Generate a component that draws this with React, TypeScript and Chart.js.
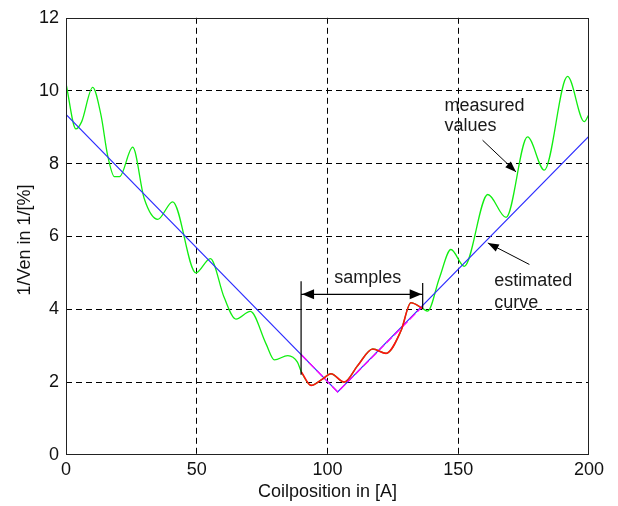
import React, { useEffect, useRef } from 'react';
import { Chart, registerables } from 'chart.js';

Chart.register(...registerables);

// Measured values (green)
const measuredX = [0, 3.8, 6, 10.2, 13.4, 15.9, 18.5, 20.5, 25.5, 29.9, 35.1, 40.8, 49.7, 55.2, 60.5, 65, 70.5, 76.5, 79.7, 84.8, 88.5, 90, 93.7, 98.2, 101.3, 106.4, 111.5, 117.3, 122.4, 128.1, 131.9, 136.4, 138.3, 142.8, 147.2, 152.3, 161.3, 168.3, 176.5, 182.9, 191.8, 198.2, 200];
const measuredY = [10.2, 8.95, 9.15, 10.09, 9.32, 8.23, 7.64, 7.64, 8.45, 7.04, 6.47, 6.95, 5.0, 5.39, 4.32, 3.73, 3.94, 3.05, 2.61, 2.73, 2.55, 2.28, 1.91, 2.09, 2.23, 2.0, 2.45, 2.91, 2.79, 3.41, 4.18, 4.02, 3.95, 4.86, 5.64, 5.18, 7.15, 6.52, 8.73, 7.82, 10.39, 9.15, 9.35];

// Samples (red)
const sampleX = [90, 93.7, 98.2, 101.3, 106.4, 111.5, 117.3, 122.4, 128.1, 131.9, 136.4];
const sampleY = [2.28, 1.91, 2.09, 2.23, 2.0, 2.45, 2.91, 2.79, 3.41, 4.18, 4.02];

// Estimated curve (blue)
const estimatedX = [0, 103.9, 200];
const estimatedY = [9.35, 1.73, 8.75];

// Fit over samples (magenta)
const fitX = [90, 103.9, 136.4];
const fitY = [2.75, 1.73, 4.08];

// Axis ticks
const xTicks = [0, 50, 100, 150, 200];
const yTicks = [0, 2, 4, 6, 8, 10, 12];

// Annotation anchors (data coordinates)
const samplesLeftX = 89.9;
const samplesRightX = 136.4;
const samplesArrowY = 4.41;
const samplesLeftSpan = [4.77, 2.2];
const samplesRightSpan = [4.72, 4.0];
const samplesLabel = { text: 'samples', x: 115.4, y: 4.86 };
const measuredLabel = { lines: ['measured', 'values'], x: 144.7, y: [9.59, 9.04] };
const measuredArrow = [159.3, 8.64, 172.1, 7.77];
const estimatedLabel = { lines: ['estimated', 'curve'], x: 163.8, y: [4.77, 4.18] };
const estimatedArrow = [177.2, 5.23, 161.3, 5.82];
const yTitle = { text: '1/Ven in 1/[%]', y: 5.9 };

const FONT = '"Liberation Sans", Arial, Helvetica, sans-serif';

const toPts = (xs: number[], ys: number[]) => xs.map((x, i) => ({ x, y: ys[i] }));

function drawArrowHead(ctx: CanvasRenderingContext2D, x1: number, y1: number, x2: number, y2: number, len: number, half: number) {
  const ang = Math.atan2(y2 - y1, x2 - x1);
  ctx.beginPath();
  ctx.moveTo(x2, y2);
  ctx.lineTo(x2 - len * Math.cos(ang) + half * Math.sin(ang), y2 - len * Math.sin(ang) - half * Math.cos(ang));
  ctx.lineTo(x2 - len * Math.cos(ang) - half * Math.sin(ang), y2 - len * Math.sin(ang) + half * Math.cos(ang));
  ctx.closePath();
  ctx.fill();
}

const annotationPlugin = {
  id: 'annotations',
  afterDatasetsDraw(chart: any) {
    const { ctx, chartArea, scales } = chart;
    const xs = scales.x;
    const ys = scales.y;
    ctx.save();
    // frame
    ctx.strokeStyle = '#222';
    ctx.lineWidth = 1;
    ctx.setLineDash([]);
    const l = Math.round(chartArea.left) + 0.5;
    const r = Math.round(chartArea.right) - 0.5;
    const t = Math.round(chartArea.top) + 0.5;
    const b = Math.round(chartArea.bottom) - 0.5;
    ctx.strokeRect(l, t, r - l, b - t);

    ctx.strokeStyle = '#000';
    ctx.fillStyle = '#000';
    ctx.lineWidth = 1.2;
    // sample verticals
    const lx = xs.getPixelForValue(samplesLeftX);
    const rx = xs.getPixelForValue(samplesRightX);
    ctx.beginPath();
    ctx.moveTo(lx, ys.getPixelForValue(samplesLeftSpan[0]));
    ctx.lineTo(lx, ys.getPixelForValue(samplesLeftSpan[1]));
    ctx.moveTo(rx, ys.getPixelForValue(samplesRightSpan[0]));
    ctx.lineTo(rx, ys.getPixelForValue(samplesRightSpan[1]));
    const ay = ys.getPixelForValue(samplesArrowY);
    ctx.moveTo(lx, ay);
    ctx.lineTo(rx, ay);
    ctx.stroke();
    drawArrowHead(ctx, rx, ay, lx + 1, ay, 12, 5);
    drawArrowHead(ctx, lx, ay, rx - 1, ay, 12, 5);

    // other arrows
    const arrows = [measuredArrow, estimatedArrow];
    ctx.lineWidth = 1;
    arrows.forEach((a) => {
      const x1 = xs.getPixelForValue(a[0]);
      const y1 = ys.getPixelForValue(a[1]);
      const x2 = xs.getPixelForValue(a[2]);
      const y2 = ys.getPixelForValue(a[3]);
      ctx.beginPath();
      ctx.moveTo(x1, y1);
      ctx.lineTo(x2, y2);
      ctx.stroke();
      drawArrowHead(ctx, x1, y1, x2, y2, 11, 4);
    });

    // texts
    ctx.font = `18px ${FONT}`;
    ctx.fillStyle = '#1a1a1a';
    ctx.textBaseline = 'middle';
    ctx.textAlign = 'center';
    ctx.fillText(samplesLabel.text, xs.getPixelForValue(samplesLabel.x), ys.getPixelForValue(samplesLabel.y));
    ctx.textAlign = 'left';
    measuredLabel.lines.forEach((s, i) => {
      ctx.fillText(s, xs.getPixelForValue(measuredLabel.x), ys.getPixelForValue(measuredLabel.y[i]));
    });
    estimatedLabel.lines.forEach((s, i) => {
      ctx.fillText(s, xs.getPixelForValue(estimatedLabel.x), ys.getPixelForValue(estimatedLabel.y[i]));
    });

    // y axis title
    ctx.save();
    ctx.translate(25, ys.getPixelForValue(yTitle.y));
    ctx.rotate(-Math.PI / 2);
    ctx.textAlign = 'center';
    ctx.fillStyle = '#111';
    ctx.fillText(yTitle.text, 0, 0);
    ctx.restore();

    ctx.restore();
  },
};

export default function App() {
  const canvasRef = useRef<HTMLCanvasElement | null>(null);

  useEffect(() => {
    if (!canvasRef.current) return;
    const chart = new Chart(canvasRef.current, {
      type: 'line',
      data: {
        datasets: [
          {
            label: 'samples',
            data: toPts(sampleX, sampleY),
            borderColor: '#ff1010',
            borderWidth: 1.6,
            pointRadius: 0,
            tension: 0.4,
            cubicInterpolationMode: 'monotone',
            fill: false,
          },
          {
            label: 'fit',
            data: toPts(fitX, fitY),
            borderColor: '#ff00ff',
            borderWidth: 1.3,
            borderDash: [8, 3],
            pointRadius: 0,
            tension: 0,
            fill: false,
          },
          {
            label: 'estimated curve',
            data: toPts(estimatedX, estimatedY),
            borderColor: '#3030ff',
            borderWidth: 1.2,
            pointRadius: 0,
            tension: 0,
            fill: false,
          },
          {
            label: 'measured values',
            data: toPts(measuredX, measuredY),
            borderColor: '#11ee11',
            borderWidth: 1.3,
            pointRadius: 0,
            tension: 0.4,
            cubicInterpolationMode: 'monotone',
            fill: false,
          },
        ],
      },
      options: {
        responsive: false,
        animation: false,
        events: [],
        layout: { padding: { left: 0, top: 15, right: 29, bottom: 0 } },
        plugins: { legend: { display: false }, tooltip: { enabled: false } },
        scales: {
          x: {
            type: 'linear',
            min: 0,
            max: 200,
            afterFit: (s: any) => { s.height = 51; },
            afterBuildTicks: (s: any) => { s.ticks = xTicks.map((v) => ({ value: v })); },
            ticks: { color: '#111', font: { size: 18, family: FONT }, padding: 4, maxRotation: 0 },
            grid: {
              drawTicks: false,
              color: (c: any) => (c.tick && (c.tick.value === 0 || c.tick.value === 200) ? 'rgba(0,0,0,0)' : '#000'),
              lineWidth: 1,
            },
            border: { display: false, dash: [6, 4] },
            title: { display: true, text: 'Coilposition in [A]', color: '#111', font: { size: 18, family: FONT }, padding: { top: 0, bottom: 3 } },
          },
          y: {
            type: 'linear',
            min: 0,
            max: 12,
            afterFit: (s: any) => { s.width = 66; },
            afterBuildTicks: (s: any) => { s.ticks = yTicks.map((v) => ({ value: v })); },
            ticks: { color: '#111', font: { size: 18, family: FONT }, padding: 7 },
            grid: {
              drawTicks: false,
              color: (c: any) => (c.tick && (c.tick.value === 0 || c.tick.value === 12) ? 'rgba(0,0,0,0)' : '#000'),
              lineWidth: 1,
            },
            border: { display: false, dash: [6, 4] },
            title: { display: false },
          },
        },
      },
      plugins: [annotationPlugin],
    } as any);
    return () => chart.destroy();
  }, []);

  return (
    <div style={{ position: 'absolute', left: 0, top: 0, width: 618, height: 506, background: '#fff' }}>
      <canvas ref={canvasRef} width={618} height={506} style={{ display: 'block', width: 618, height: 506 }} />
    </div>
  );
}
